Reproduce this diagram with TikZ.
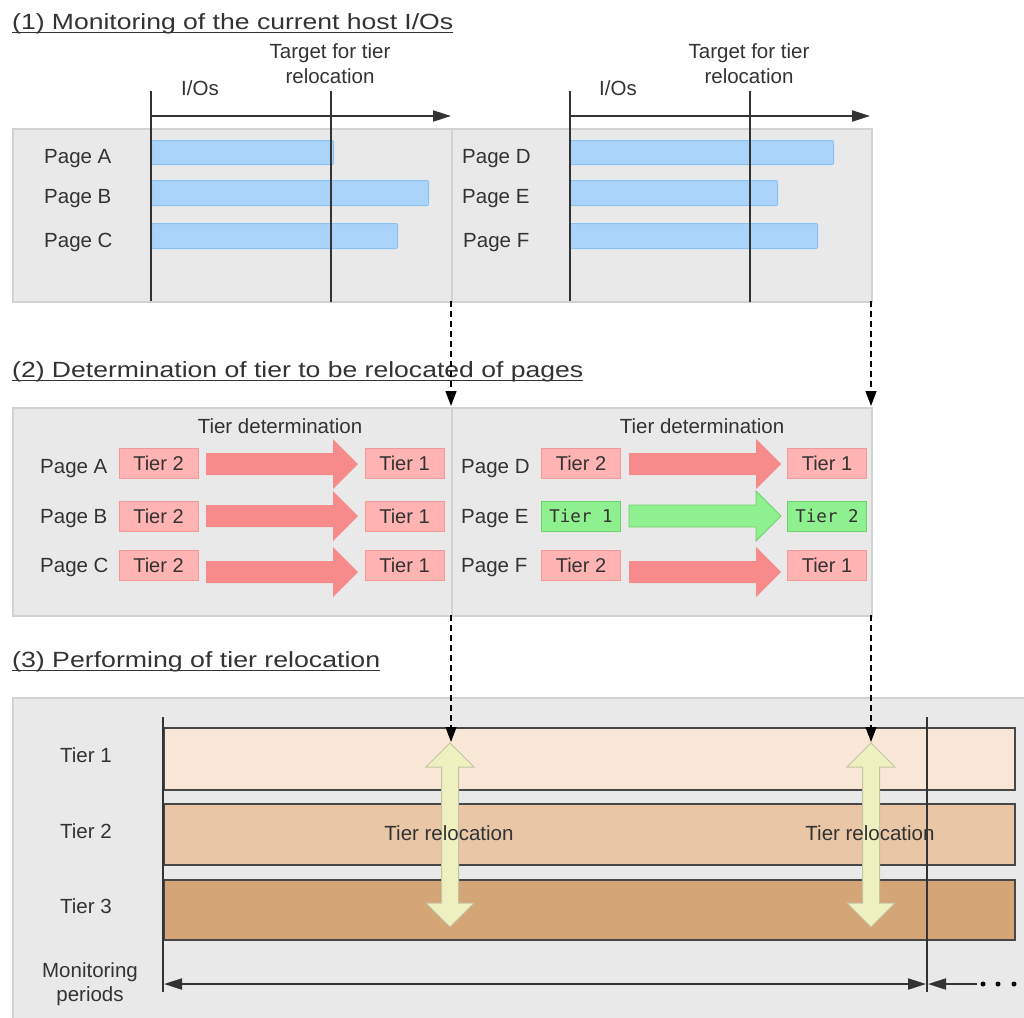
\documentclass[tikz,border=0pt]{standalone}
\usepackage{fontspec}
\setmainfont{Liberation Sans}
\newfontfamily\greenfont{DejaVu Sans Mono}
\usetikzlibrary{arrows.meta}
\definecolor{txt}{HTML}{333333}
\definecolor{panelfill}{HTML}{E9E9E9}
\definecolor{paneldraw}{HTML}{D2D2D2}
\definecolor{barfill}{HTML}{AAD3FA}
\definecolor{bardraw}{HTML}{8CC2F2}
\definecolor{redfill}{HTML}{FFB3B3}
\definecolor{reddraw}{HTML}{F29A9A}
\definecolor{redarrow}{HTML}{F78B8B}
\definecolor{greenfill}{HTML}{8FF08F}
\definecolor{greendraw}{HTML}{6CD26C}
\definecolor{tierA}{HTML}{F8E7D7}
\definecolor{tierB}{HTML}{E8C6A6}
\definecolor{tierC}{HTML}{D4A576}
\definecolor{yelfill}{HTML}{EEF0C0}
\definecolor{yeldraw}{HTML}{C4C4A4}
\newcommand\fatarrowshape[4]{% x1, tip, y, style
  \path[#4] (#1,#3-11) -- (#2-25,#3-11) -- (#2-25,#3-25) -- (#2,#3)
    -- (#2-25,#3+25) -- (#2-25,#3+11) -- (#1,#3+11) -- cycle;}
\newcommand\dblarrowshape[3]{% x, top tip, bottom tip
  \path[dblarr] (#1,#2) -- (#1+24,#2+24) -- (#1+8.5,#2+24) -- (#1+8.5,#3-24)
    -- (#1+24,#3-24) -- (#1,#3) -- (#1-24,#3-24) -- (#1-8.5,#3-24)
    -- (#1-8.5,#2+24) -- (#1-24,#2+24) -- cycle;}
\begin{document}
\begin{tikzpicture}[x=1pt,y=-1pt,
  lbl/.style={font=\fontsize{20.5}{24}\selectfont, text=txt, inner sep=0pt},
  ttl/.style={font=\fontsize{22}{26}\selectfont, text=txt, inner sep=0pt},
  uline/.style={draw=txt, line width=1.5pt},
  panel/.style={fill=panelfill, draw=paneldraw, line width=1.5pt},
  bar/.style={fill=barfill, draw=bardraw, line width=1pt, rounded corners=1pt, inner sep=0pt},
  vline/.style={draw=txt, line width=1.6pt},
  axis/.style={draw=txt, line width=2pt, -{Triangle[length=18pt,width=11pt]}},
  redbox/.style={fill=redfill, draw=reddraw, line width=1pt, minimum width=79pt, minimum height=30pt, inner sep=0pt, font=\fontsize{20}{24}\selectfont, text=txt},
  greenbox/.style={fill=greenfill, draw=greendraw, line width=1pt, minimum width=79pt, minimum height=30pt, inner sep=0pt, font=\greenfont\fontsize{17.5}{20}\selectfont, text=txt},
  redarr/.style={fill=redarrow},
  greenarr/.style={fill=greenfill, draw=greendraw, line width=0.8pt},
  dblarr/.style={fill=yelfill, draw=yeldraw, line width=1pt},
  dashedarr/.style={draw=black, line width=1.3pt, dash pattern=on 6pt off 4pt, -{Triangle[length=15pt,width=11pt]}},
  band/.style={draw=txt!90, line width=2pt, inner sep=0pt},
  period/.style={draw=txt, line width=2pt},
]
\useasboundingbox (0,0) rectangle (1024,1017);
\fill[white] (0,0) rectangle (1024,1017);

% ================= Section 1 =================
\node[ttl, anchor=base west] (t1) at (12,29) {\resizebox{441pt}{\height}{(1) Monitoring of the current host I/Os}};
\draw[uline] ([yshift=-3.5pt]t1.base west) -- ([yshift=-3.5pt]t1.base east);

\node[panel, anchor=north west, minimum width=439pt, minimum height=173pt, inner sep=0pt] (p1l) at (12,128) {};
\node[panel, anchor=north west, minimum width=420pt, minimum height=173pt, inner sep=0pt] (p1r) at (451,128) {};

% left half
\node[bar, anchor=north west, minimum width=182pt, minimum height=24pt] (barA) at (151,140) {};
\node[bar, anchor=north west, minimum width=277pt, minimum height=25pt] (barB) at (151,180) {};
\node[bar, anchor=north west, minimum width=246pt, minimum height=25pt] (barC) at (151,223) {};
\node[lbl, anchor=base west] (pgA) at (44,163) {Page A};
\node[lbl, anchor=base west] (pgB) at (44,203) {Page B};
\node[lbl, anchor=base west] (pgC) at (44,247) {Page C};
\coordinate (v1top) at (151,91); \coordinate (v1bot) at (151,301);
\coordinate (v2top) at (331,91); \coordinate (v2bot) at (331,302);
\draw[vline] (v1top) -- (v1bot);
\draw[vline] (v2top) -- (v2bot);
\coordinate (ax1s) at (151,116); \coordinate (ax1e) at (451,116);
\draw[axis] (ax1s) -- (ax1e);
\node[lbl, anchor=base] (io1) at (200,95) {I/Os};
\node[lbl, anchor=base] (tg1a) at (330,58) {Target for tier};
\node[lbl, anchor=base] (tg1b) at (330,83) {relocation};

% right half
\node[bar, anchor=north west, minimum width=263pt, minimum height=24pt] (barD) at (570,140) {};
\node[bar, anchor=north west, minimum width=207pt, minimum height=25pt] (barE) at (570,180) {};
\node[bar, anchor=north west, minimum width=247pt, minimum height=25pt] (barF) at (570,223) {};
\node[lbl, anchor=base west] (pgD) at (462,163) {Page D};
\node[lbl, anchor=base west] (pgE) at (462,203) {Page E};
\node[lbl, anchor=base west] (pgF) at (463,247) {Page F};
\coordinate (v3top) at (570,91); \coordinate (v3bot) at (570,301);
\coordinate (v4top) at (750,91); \coordinate (v4bot) at (750,302);
\draw[vline] (v3top) -- (v3bot);
\draw[vline] (v4top) -- (v4bot);
\coordinate (ax2s) at (570,116); \coordinate (ax2e) at (870,116);
\draw[axis] (ax2s) -- (ax2e);
\node[lbl, anchor=base] (io2) at (618,95) {I/Os};
\node[lbl, anchor=base] (tg2a) at (749,58) {Target for tier};
\node[lbl, anchor=base] (tg2b) at (749,83) {relocation};

% ================= Section 2 =================
\node[ttl, anchor=base west] (t2) at (12,377) {\resizebox{571pt}{\height}{(2) Determination of tier to be relocated of pages}};
\draw[uline] ([yshift=-3.5pt]t2.base west) -- ([yshift=-3.5pt]t2.base east);

\node[panel, anchor=north west, minimum width=439pt, minimum height=208pt, inner sep=0pt] (p2l) at (12,407) {};
\node[panel, anchor=north west, minimum width=420pt, minimum height=208pt, inner sep=0pt] (p2r) at (451,407) {};

\node[lbl, anchor=base] (td1) at (280,433) {Tier determination};
\node[lbl, anchor=base] (td2) at (702,433) {Tier determination};

% left rows
\node[lbl, anchor=base west] (qA) at (40,473) {Page A};
\node[lbl, anchor=base west] (qB) at (40,523) {Page B};
\node[lbl, anchor=base west] (qC) at (40,572) {Page C};
\node[redbox] (sA) at (158.5,463) {Tier 2};
\node[redbox] (sB) at (158.5,516) {Tier 2};
\node[redbox] (sC) at (158.5,565) {Tier 2};
\node[redbox] (dA) at (404.5,463) {Tier 1};
\node[redbox] (dB) at (404.5,516) {Tier 1};
\node[redbox] (dC) at (404.5,565) {Tier 1};
\fatarrowshape{206}{358}{464}{redarr}
\fatarrowshape{206}{358}{516}{redarr}
\fatarrowshape{206}{358}{572}{redarr}

% right rows
\node[lbl, anchor=base west] (qD) at (461,473) {Page D};
\node[lbl, anchor=base west] (qE) at (461,523) {Page E};
\node[lbl, anchor=base west] (qF) at (461,572) {Page F};
\node[redbox] (sD) at (581,463) {Tier 2};
\node[greenbox] (sE) at (581,516) {Tier 1};
\node[redbox] (sF) at (581,565) {Tier 2};
\node[redbox] (dD) at (827,463) {Tier 1};
\node[greenbox] (dE) at (827,516) {Tier 2};
\node[redbox] (dF) at (827,565) {Tier 1};
\fatarrowshape{629}{781}{464}{redarr}
\fatarrowshape{629}{781}{516}{greenarr}
\fatarrowshape{629}{781}{572}{redarr}

% ================= Section 3 =================
\node[ttl, anchor=base west] (t3) at (12,667) {\resizebox{368pt}{\height}{(3) Performing of tier relocation}};
\draw[uline] ([yshift=-3.5pt]t3.base west) -- ([yshift=-3.5pt]t3.base east);

\node[panel, anchor=north west, minimum width=1030pt, minimum height=340pt, inner sep=0pt] (p3) at (12,697) {};

\node[band, fill=tierA, anchor=north west, minimum width=851pt, minimum height=62pt] (tier1) at (163,727) {};
\node[band, fill=tierB, anchor=north west, minimum width=851pt, minimum height=61pt] (tier2) at (163,803) {};
\node[band, fill=tierC, anchor=north west, minimum width=851pt, minimum height=60pt] (tier3) at (163,879) {};

\coordinate (lvtop) at (163,717); \coordinate (lvbot) at (163,992);
\draw[vline, line width=2pt] (lvtop) -- (lvbot);
\coordinate (rvtop) at (927,717); \coordinate (rvbot) at (927,992);
\draw[vline] (rvtop) -- (rvbot);

\node[lbl, anchor=base] (l1) at (86,762) {Tier 1};
\node[lbl, anchor=base] (l2) at (86,838) {Tier 2};
\node[lbl, anchor=base] (l3) at (86,913) {Tier 3};
\node[lbl, anchor=base] (m1) at (90,977) {Monitoring};
\node[lbl, anchor=base] (m2) at (90,1001) {periods};

\dblarrowshape{450}{743}{927}
\dblarrowshape{871}{743}{927}
\node[lbl, anchor=base] (rl1) at (449,840) {Tier relocation};
\node[lbl, anchor=base] (rl2) at (870,840) {Tier relocation};

% monitoring period arrows
\coordinate (mpL) at (164,984); \coordinate (mpR) at (926,984);
\draw[period, {Triangle[length=18pt,width=11pt]}-{Triangle[length=18pt,width=11pt]}] (mpL) -- (mpR);
\coordinate (mnS) at (977,984); \coordinate (mnE) at (928,984);
\draw[period, -{Triangle[length=18pt,width=11pt]}] (mnS) -- (mnE);
\node[circle, fill=black, inner sep=0pt, minimum size=5pt] (dot1) at (983,984) {};
\node[circle, fill=black, inner sep=0pt, minimum size=5pt] (dot2) at (998,984) {};
\node[circle, fill=black, inner sep=0pt, minimum size=5pt] (dot3) at (1014,984) {};

% ================= dashed connectors =================
\coordinate (d1a) at (451,301); \coordinate (d1b) at (451,406);
\coordinate (d2a) at (871,301); \coordinate (d2b) at (871,406);
\coordinate (d3a) at (451,615); \coordinate (d3b) at (451,742);
\coordinate (d4a) at (871,615); \coordinate (d4b) at (871,742);
\draw[dashedarr] (d1a) -- (d1b);
\draw[dashedarr] (d2a) -- (d2b);
\draw[dashedarr] (d3a) -- (d3b);
\draw[dashedarr] (d4a) -- (d4b);
\end{tikzpicture}
\end{document}
